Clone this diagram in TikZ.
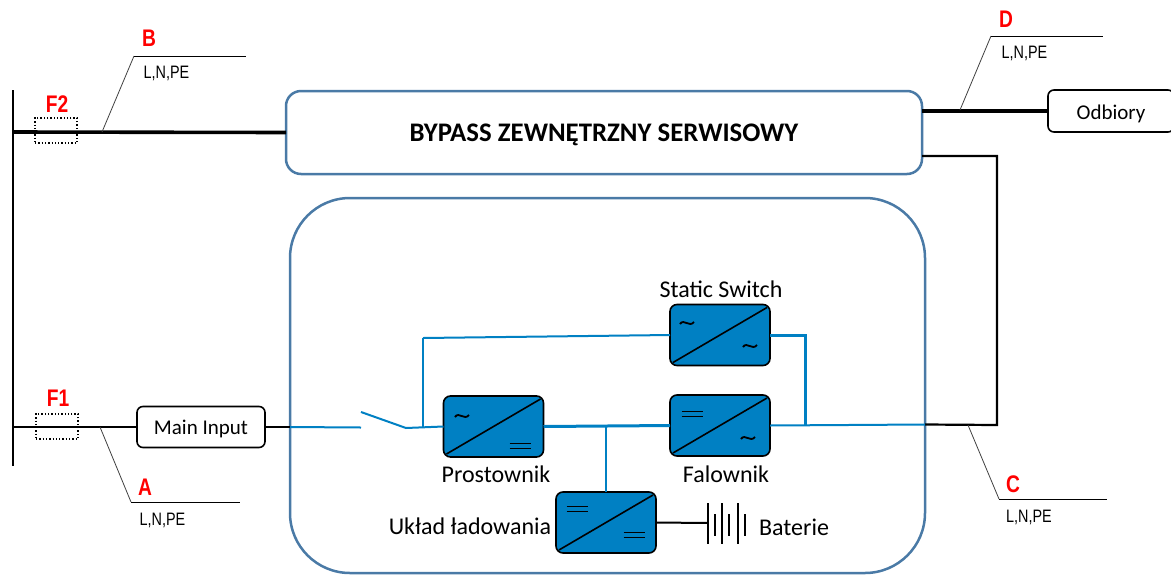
\documentclass[tikz,border=0pt]{standalone}
\usepackage{fontspec}
\setmainfont{Carlito}
\newfontfamily\narrowfont[FakeStretch=0.8]{Liberation Sans}
\definecolor{convblue}{HTML}{0080C3}
\definecolor{frameblue}{HTML}{4A7AA6}
\tikzset{
  conv/.style={draw=black,fill=convblue,line width=1.6pt,rounded corners=7pt,minimum width=100pt,minimum height=61pt,inner sep=0pt,outer sep=0pt},
  whitebox/.style={draw=black,fill=white,line width=1.6pt,rounded corners=6pt,inner sep=0pt,outer sep=0pt,font=\fontsize{21}{25}\selectfont},
  frame/.style={draw=frameblue,line width=2.5pt,inner sep=0pt,outer sep=0pt},
  caption/.style={inner sep=0pt,font=\fontsize{24}{28}\selectfont},
  redlabel/.style={inner sep=0pt,text=red,font=\narrowfont\bfseries\fontsize{24}{28}\selectfont},
  cable/.style={inner sep=0pt,font=\narrowfont\fontsize{18}{21}\selectfont},
  fuse/.style={draw=black,dotted,line width=1.3pt,inner sep=0pt,outer sep=0pt},
  bluewire/.style={draw=convblue,line width=2pt},
  leader/.style={draw=black!75,line width=0.8pt},
  tilde/.pic={\draw[line width=1.8pt] (-7,1) .. controls (-3,-5) and (2,5) .. (7,-1);},
  dcmark/.pic={\draw[line width=1.8pt] (-10.5,-2.5)--(10.5,-2.5) (-10.5,2.5)--(10.5,2.5);}
}
\begin{document}
\begin{tikzpicture}[x=1pt,y=-1pt]
    \useasboundingbox (0,0) rectangle (1171,574);
    % outer frames
    \node[frame,rounded corners=60pt,minimum width=635pt,minimum height=375pt] (ups) at (607.5,385.5) {};
    \node[frame,rounded corners=15pt,minimum width=636pt,minimum height=83pt,text height=23pt,text depth=5pt,font=\bfseries\fontsize{26.8}{30}\selectfont] (bypass) at (604,132.5) {BYPASS ZEWNĘTRZNY SERWISOWY};
    % boxes
    \node[whitebox,minimum width=128pt,minimum height=41pt,text height=15pt,text depth=0pt] (input) at (201,427) {Main Input};
    \node[whitebox,minimum width=126pt,minimum height=42pt,text height=21pt,text depth=5pt] (odbiory) at (1111,111) {Odbiory};
    \node[conv] (static) at (720,335) {};
    \node[conv] (falownik) at (720,425.5) {};
    \node[conv] (prostownik) at (493.5,426.5) {};
    \node[conv] (uklad) at (606,522.5) {};
    \foreach \conv in {static,falownik,prostownik,uklad}
      \draw[line width=1.6pt] ([shift={(3,-3)}]\conv.south west)--([shift={(-3,3)}]\conv.north east);
    \pic at (687,323) {tilde};
    \pic at (750,346) {tilde};
    \pic at (462,416) {tilde};
    \pic at (520,446) {dcmark};
    \pic at (692,414) {dcmark};
    \pic at (748,438) {tilde};
    \pic at (577,509) {dcmark};
    \pic at (634,535) {dcmark};
    \node[caption] (lstatic) at (721,289) {Static Switch};
    \node[caption] (lprost) at (496,474) {Prostownik};
    \node[caption] (lfal) at (726,474) {Falownik};
    \node[caption] (luklad) at (470,526) {Układ ładowania};
    \node[caption] (lbat) at (794,527) {Baterie};
    % bus and feeders
    \coordinate (bustop) at (13,90);
    \coordinate (busbot) at (13,466);
    \coordinate (f2in) at (13,132);
    \coordinate (f1in) at (13,427);
    \coordinate (upsin) at (290,427);
    \draw[line width=2.2pt] (bustop)--(busbot);
    \draw[line width=3.6pt] (f2in)--(bypass.west);
    \draw[line width=2.2pt] (f1in)--(input.west);
    \draw[line width=2.2pt] (input.east)--(upsin);
    \node[fuse,minimum width=42pt,minimum height=25pt] (f2) at (56,130.5) {};
    \node[fuse,minimum width=42pt,minimum height=25pt] (f1) at (57,426.5) {};
    \node[redlabel] (lf2) at (57,104) {F2};
    \node[redlabel] (lf1) at (58,398) {F1};
    % outgoing lines
    \coordinate (bypassout) at (922,111);
    \coordinate (bypassret) at (922,156);
    \coordinate (retcorner) at (997,156);
    \coordinate (outcorner) at (997,425);
    \coordinate (upsout) at (925,424.5);
    \draw[line width=3.6pt] (bypassout)--(odbiory.west);
    \draw[line width=2.2pt] (bypassret)--(retcorner)--(outcorner)--(upsout);
    % inside the ups
    \coordinate (swopen) at (361,412);
    \coordinate (swleft) at (361,427.5);
    \coordinate (swright) at (406,428);
    \coordinate (tapleft) at (423,428);
    \coordinate (tapup) at (423,338);
    \coordinate (tapright) at (805,335);
    \coordinate (tapout) at (805,424.5);
    \draw[bluewire] (upsin)--(swleft);
    \draw[bluewire] (swopen)--(swright)--(prostownik.west);
    \draw[bluewire,line width=2.6pt] (tapleft)--(tapup);
    \draw[bluewire] (tapup)--(static.west);
    \draw[bluewire,line width=3pt] (static.east)--(tapright)--(tapout);
    \draw[bluewire,line width=3pt] (prostownik.east)--(falownik.west);
    \draw[bluewire] (falownik.east)--(upsout);
    \draw[bluewire] (prostownik.east -| uklad.north)--(uklad.north);
    % battery
    \coordinate (bat1) at (708,523);
    \draw[line width=2pt] (uklad.east)--(bat1);
    \foreach \x/\y/\z in {708/503/544,722/503/544,738/503/544,715/514/536,729/514/536,745/514/536}
      \draw[line width=1.8pt] (\x,\y)--(\x,\z);
    % cable labels
    \coordinate (bbase) at (102,132);
    \coordinate (bknee) at (134,56);
    \coordinate (bend) at (246,56);
    \draw[leader] (bbase)--(bknee);
    \draw[line width=1pt] (bknee)--(bend);
    \node[redlabel] (lb) at (149,38) {B};
    \node[cable] (cb) at (166.5,73) {L,N,PE};
    \coordinate (abase) at (100,427);
    \coordinate (aknee) at (131,502);
    \coordinate (aend) at (240,502);
    \draw[leader] (abase)--(aknee);
    \draw[line width=1pt] (aknee)--(aend);
    \node[redlabel] (la) at (145,487) {A};
    \node[cable] (ca) at (162.5,520) {L,N,PE};
    \coordinate (dbase) at (960,110);
    \coordinate (dknee) at (991,36);
    \coordinate (dend) at (1103,36);
    \draw[leader] (dbase)--(dknee);
    \draw[line width=1pt] (dknee)--(dend);
    \node[redlabel] (ld) at (1006,19) {D};
    \node[cable] (cd) at (1024.5,53) {L,N,PE};
    \coordinate (cbase) at (968,425);
    \coordinate (cknee) at (999,499);
    \coordinate (cend) at (1107,499);
    \draw[leader] (cbase)--(cknee);
    \draw[line width=1pt] (cknee)--(cend);
    \node[redlabel] (lc) at (1013,484) {C};
    \node[cable] (cc) at (1029,517) {L,N,PE};
\end{tikzpicture}
\end{document}
